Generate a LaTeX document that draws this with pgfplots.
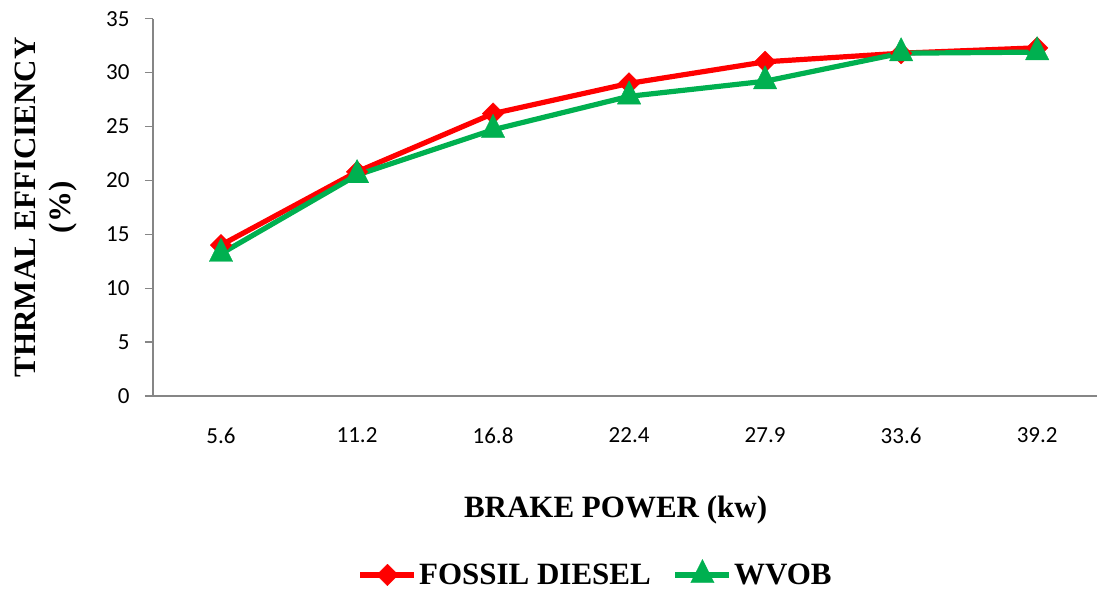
\documentclass[border=0pt]{standalone}
\usepackage{fontspec}
\setmainfont{Liberation Serif}
\newfontfamily\carlito{Carlito}
\usepackage{pgfplots}
\pgfplotsset{compat=1.18}
\definecolor{fred}{HTML}{FF0000}
\definecolor{fgreen}{HTML}{00B050}
\definecolor{axgray}{HTML}{868686}
\begin{document}
\begin{tikzpicture}
\begin{axis}[name=ax, at={(0,0)}, anchor=south west,
  width=944pt, height=377.3pt, scale only axis,
  xmin=-0.5, xmax=6.44, ymin=0, ymax=35,
  axis lines*=left,
  axis line style={draw=axgray, line width=1.3pt},
  xtick={0,...,6},
  xticklabels={5.6,11.2,16.8,22.4,27.9,33.6,39.2},
  ytick={0,5,...,35},
  tick align=outside, major tick length=8pt,
  x tick style={draw=none},
  y tick style={draw=axgray, line width=1.3pt},
  tick label style={font=\carlito\fontsize{23}{27}\selectfont},
  xticklabel style={yshift=-20pt},
  yticklabel style={xshift=-12pt},
  /pgf/number format/assume math mode=true,
  xlabel={BRAKE POWER (kw)},
  xlabel style={font=\bfseries\fontsize{31}{35}\selectfont, at={(axis description cs:0.49,-0.302)}, anchor=center},
  ylabel={THRMAL EFFICIENCY\\(\%)},
  ylabel style={font=\bfseries\fontsize{31}{35}\selectfont, align=center, at={(axis description cs:-0.113,0.5)}, anchor=center},
  legend columns=2,
  legend style={draw=none, fill=none, at={(axis description cs:0.469,-0.471)}, anchor=center,
    font=\bfseries\fontsize{31}{36}\selectfont, inner sep=1pt,
    /tikz/every even column/.append style={column sep=20pt}},
  legend image code/.code={\draw[mark repeat=2,mark phase=2,#1] plot coordinates {(0pt,0pt) (27pt,0pt) (54pt,0pt)};},
]
\addplot[color=fred, line width=5.2pt, line join=round, mark=square*, mark size=7.6pt,
  mark options={rotate=45, solid, line width=0.4pt, fill=fred, draw=fred}]
  coordinates {(0,14.0) (1,20.8) (2,26.2) (3,29.0) (4,31.0) (5,31.8) (6,32.3)};
\addlegendentry{FOSSIL DIESEL}
\addplot[color=fgreen, line width=5.2pt, line join=round, mark=triangle*, mark size=13.5pt,
  mark options={yscale=1.15, solid, line width=0.4pt, fill=fgreen, draw=fgreen}]
  coordinates {(0,13.2) (1,20.5) (2,24.7) (3,27.8) (4,29.2) (5,31.8) (6,31.9)};
\addlegendentry{WVOB}
\end{axis}
\pgfresetboundingbox
\path[use as bounding box] (-153pt,-196pt) rectangle (944pt,396pt);
\end{tikzpicture}
\end{document}
